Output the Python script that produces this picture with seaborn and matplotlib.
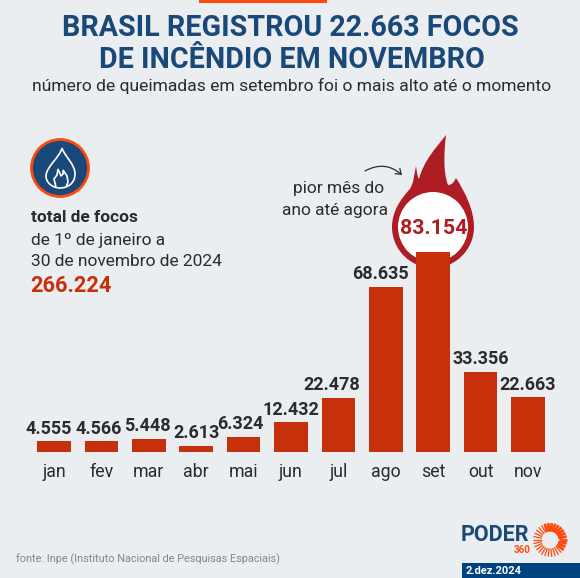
import numpy as np
import pandas as pd
import matplotlib
matplotlib.use('Agg')
import matplotlib.pyplot as plt
import seaborn as sns
from matplotlib.path import Path
from matplotlib.patches import PathPatch, Circle, Rectangle, FancyArrowPatch

meses = ['jan', 'fev', 'mar', 'abr', 'mai', 'jun', 'jul', 'ago', 'set', 'out', 'nov']
focos = [4555, 4566, 5448, 2613, 6324, 12432, 22478, 68635, 83154, 33356, 22663]
total = 266224

BG = '#eaeef1'
NAVY = '#1a4879'
ORANGE = '#ff4a0d'
BAR = '#c6300a'
DARK = '#2b2b2e'
WINE = '#ae1c24'

sns.set_theme(style='white')
plt.rcParams['font.family'] = ['Roboto', 'DejaVu Sans']

W, H = 580, 578
fig = plt.figure(figsize=(W / 100, H / 100), dpi=100, facecolor=BG)

# fundo em pixels pra texto e desenhos
bg = fig.add_axes([0, 0, 1, 1], zorder=0)
bg.set_xlim(0, W)
bg.set_ylim(H, 0)
bg.axis('off')

bg.add_patch(Rectangle((199, 0), 128, 3, color=ORANGE, lw=0))
bg.text(290, 28, 'BRASIL REGISTROU 22.663 FOCOS', ha='center', va='center', fontsize=20.6, fontweight='bold', color=NAVY)
bg.text(292, 60, 'DE INCÊNDIO EM NOVEMBRO', ha='center', va='center', fontsize=20.6, fontweight='bold', color=NAVY)
bg.text(291.5, 86, 'número de queimadas em setembro foi o mais alto até o momento', ha='center', va='center', fontsize=12.6, color=DARK)

# icone
bg.add_patch(Circle((60, 168), 28.5, fc=NAVY, ec=ORANGE, lw=2))
c = Path.CURVE4
gota = Path([(62, 148), (60, 157), (46, 167), (46, 176), (46, 183), (53, 188), (60, 188),
             (68, 188), (75, 183), (75, 174), (75, 164), (65, 157), (62, 148)],
            [Path.MOVETO, c, c, c, c, c, c, c, c, c, c, c, c])
bg.add_patch(PathPatch(gota, fc='none', ec='white', lw=1.2))
chama = Path([(56, 187), (54, 179), (57, 175), (58, 169), (61, 176), (63, 174), (63, 170),
              (67, 176), (68, 182), (66, 187)])
bg.add_patch(PathPatch(chama, fc='none', ec='white', lw=1.2))

bg.text(31, 218, 'total de focos', va='center', fontsize=12.4, fontweight='bold', color=DARK)
bg.text(31, 240, 'de 1º de janeiro a', va='center', fontsize=12.5, color=DARK)
bg.text(31, 261, '30 de novembro de 2024', va='center', fontsize=12.5, color=DARK)
bg.text(30, 286, f'{total:,}'.replace(',', '.'), va='center', fontsize=15.7, fontweight='bold', color=BAR)

# chama do pico
verts = [(392, 227), (392, 212), (400, 200), (409, 190),
         (414, 184), (414, 175), (416, 166),
         (417, 172), (417, 176), (419, 179),
         (424, 160), (436, 148), (446, 135),
         (444, 152), (443, 172), (448, 185),
         (452, 185), (454, 182), (456, 178),
         (465, 192), (474, 210), (474, 227),
         (474, 250), (455, 268), (433, 268),
         (411, 268), (392, 250), (392, 227)]
codes = [Path.MOVETO] + [c] * (len(verts) - 1)
bg.add_patch(PathPatch(Path(verts, codes), fc=WINE, ec='none'))
bg.add_patch(Circle((433, 227), 35, fc='white', ec='none'))
bg.text(433.5, 228, '83.154', ha='center', va='center', fontsize=15.4, fontweight='bold', color=WINE)
bg.add_patch(FancyArrowPatch((365, 171), (402, 175), connectionstyle='arc3,rad=-0.35', arrowstyle='->,head_length=3.5,head_width=2.5', lw=0.9, color=DARK, shrinkA=0, shrinkB=0))
bg.text(339, 189, 'pior mês do', ha='center', va='center', fontsize=12.5, color=DARK)
bg.text(335, 211, 'ano até agora', ha='center', va='center', fontsize=12.5, color=DARK)

# barras
df = pd.DataFrame({'mes': meses, 'focos': focos})
ax = fig.add_axes([30.3 / W, (H - 452) / H, 521.4 / W, 200 / H], zorder=1)
ax.patch.set_alpha(0)
sns.barplot(data=df, x='mes', y='focos', color=BAR, saturation=1, width=0.71, linewidth=0, ax=ax)
ax.set_xlim(-0.5, 10.5)
ax.set_ylim(0, max(focos))
ax.set_xlabel('')
ax.set_ylabel('')
ax.set_yticks([])
sns.despine(ax=ax, left=True, bottom=True)
ax.tick_params(axis='x', length=0, pad=8, labelsize=12.8, labelcolor=DARK)

# no original os rotulos nao ficam bem centrados nas barras
desvio_px = [-5, -3, -1, 0, -3, 0, -7, -5, 0, 0, 0]
for i, v in enumerate(focos):
    if meses[i] == 'set':
        continue
    ax.annotate(f'{v:,}'.replace(',', '.'), (i, v), xytext=(desvio_px[i] * 0.72, 2.5), textcoords='offset points', ha='center', va='bottom',
                fontsize=13, fontweight='bold', color=DARK)

# rodape
bg.text(16, 559, 'fonte: Inpe (Instituto Nacional de Pesquisas Espaciais)', va='center', fontsize=7.8, color='#7d8794')
bg.text(461, 535, 'PODER', va='center', ha='left', fontsize=15.5, fontweight='bold', color=NAVY)
bg.text(531, 550, '360', va='center', ha='right', fontsize=7, fontweight='bold', color=ORANGE)
for a in np.arange(0, 360, 12):
    t = np.deg2rad(a)
    lw = 2.0 if (a < 110 or a > 320) else 0.9
    bg.plot([550 + 8.5 * np.cos(t), 550 + 17 * np.cos(t)], [540 - 8.5 * np.sin(t), 540 - 17 * np.sin(t)], color=ORANGE, lw=lw, solid_capstyle='butt')
bg.add_patch(Rectangle((462, 563), 118, 15, color='#00427f', lw=0))
bg.text(466, 571, '2.dez.2024', va='center', fontsize=8, fontweight='bold', color='white')

fig.savefig('out.png', dpi=100, facecolor=BG)
